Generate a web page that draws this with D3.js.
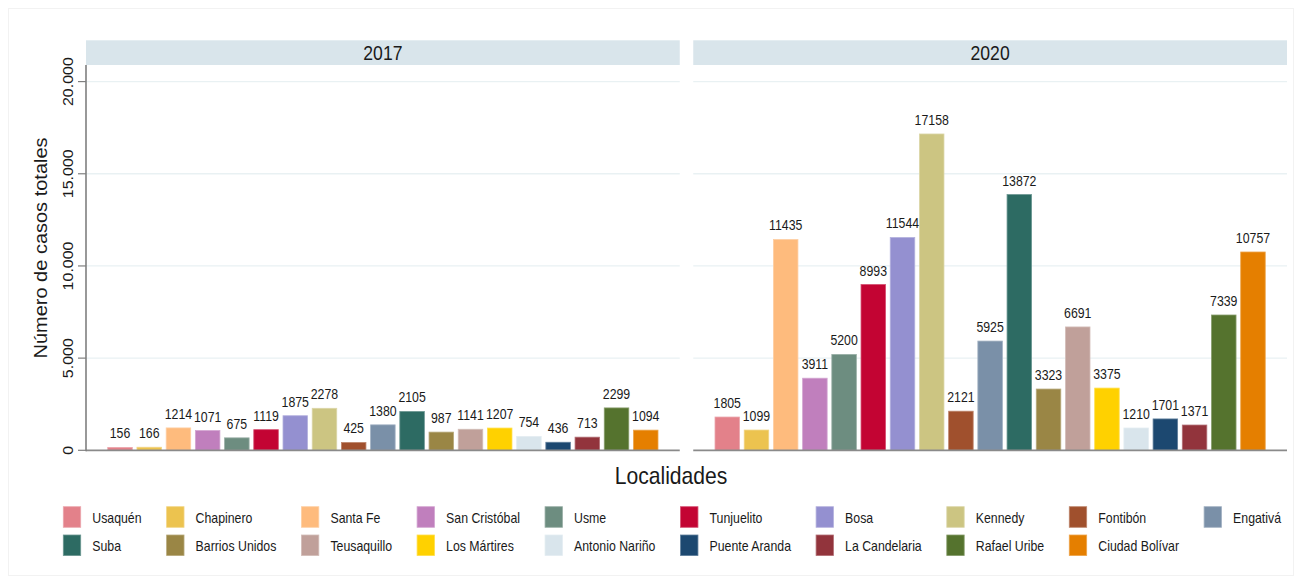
<!DOCTYPE html>
<html><head><meta charset="utf-8">
<script src="https://cdn.jsdelivr.net/npm/d3@7"></script>
<style>
html,body{margin:0;padding:0;background:#fff;}
text{font-family:"Liberation Sans",Arial,sans-serif;fill:#1a1a1a;}
</style></head>
<body><svg id="c" width="1302" height="584"></svg>
<script>
const localidades = ["Usaquén","Chapinero","Santa Fe","San Cristóbal","Usme","Tunjuelito","Bosa","Kennedy","Fontibón","Engativá","Suba","Barrios Unidos","Teusaquillo","Los Mártires","Antonio Nariño","Puente Aranda","La Candelaria","Rafael Uribe","Ciudad Bolívar"];
const casos2017 = [156,166,1214,1071,675,1119,1875,2278,425,1380,2105,987,1141,1207,754,436,713,2299,1094];
const casos2020 = [1805,1099,11435,3911,5200,8993,11544,17158,2121,5925,13872,3323,6691,3375,1210,1701,1371,7339,10757];
const colores = ["#e3818a","#ecc34f","#febb7d","#c07fbd","#6d8d80","#c30433","#9490d0","#ccc582","#a0502d","#7a90a8","#2d6b63","#9a8645","#c0a09a","#ffd100","#d9e5ec","#1c4870","#92343c","#55732e","#e57f00"];
const anios = ["2017","2020"];
const yTicks = [0,5000,10000,15000,20000];
const yTickLabels = ["0","5.000","10.000","15.000","20.000"];

const series = [casos2017, casos2020];
const SX = 0.88; // horizontal squish of glyphs
const svg = d3.select("#c");

// faint outer frame
svg.append("rect").attr("x",8.5).attr("y",8.5).attr("width",1285).attr("height",567)
  .attr("fill","none").attr("stroke","#f2f2f2");

const y = d3.scaleLinear().domain([0,20900]).range([450.3,65]);
const panelX = d3.scaleBand().domain(anios).range([86,1287]).paddingInner(0.0222);
const pw = panelX.bandwidth();

function htext(g, x, yy, txt, size, anchor){
  return g.append("text").attr("transform",`translate(${x},${yy}) scale(${SX},1)`)
    .attr("text-anchor",anchor||"middle").style("font-size",size+"px").text(txt);
}

anios.forEach((yr,pi)=>{
  const x0 = panelX(yr);
  const g = svg.append("g");
  // strip
  g.append("rect").attr("x",x0).attr("y",40.3).attr("width",pw).attr("height",24.7).attr("fill","#d9e5eb");
  htext(g, x0+pw/2, 59.5, yr, 20);
  // grid
  g.selectAll(".grid").data(yTicks.filter(t=>t>0)).join("line")
    .attr("x1",x0).attr("x2",x0+pw).attr("y1",d=>y(d)).attr("y2",d=>y(d))
    .attr("stroke","#e9f1f3").attr("stroke-width",1.3);
  const xb = d3.scaleBand().domain(localidades).range([x0,x0+pw]).paddingInner(0.16).paddingOuter(0.745);
  const vals = series[pi];
  g.selectAll(".bar").data(localidades).join("rect")
    .attr("x",d=>xb(d)).attr("width",xb.bandwidth())
    .attr("y",(d,i)=>y(vals[i])).attr("height",(d,i)=>y(0)-y(vals[i]))
    .attr("fill",(d,i)=>colores[i])
    .attr("stroke",(d,i)=>d3.interpolateRgb(colores[i],"#ffffff")(0.3)).attr("stroke-width",0.8);
  localidades.forEach((d,i)=>{
    htext(g, xb(d)+xb.bandwidth()/2, y(vals[i])-9, String(vals[i]), 14);
  });
  // baseline
  g.append("line").attr("x1",x0).attr("x2",x0+pw).attr("y1",y(0)).attr("y2",y(0))
    .attr("stroke","#8a8a8a").attr("stroke-width",1.8);
});

// y axis
const x0 = panelX(anios[0]);
svg.append("line").attr("x1",x0).attr("x2",x0).attr("y1",65).attr("y2",y(0)+0.9)
  .attr("stroke","#7f7f7f").attr("stroke-width",1.6);
yTicks.forEach((t,i)=>{
  svg.append("line").attr("x1",x0-8).attr("x2",x0).attr("y1",y(t)).attr("y2",y(t))
    .attr("stroke","#7f7f7f").attr("stroke-width",1.2);
  svg.append("text").attr("transform",`translate(73,${y(t)}) scale(${SX},1) rotate(-90)`)
    .attr("text-anchor","middle").style("font-size","16px").text(yTickLabels[i]);
});
svg.append("text").attr("transform",`translate(47,248) scale(${SX},1) rotate(-90)`)
  .attr("text-anchor","middle").style("font-size","20px").text("Número de casos totales");

// x title
htext(svg, 671, 484, "Localidades", 24);

// legend
const nCols = 10;
const leg = svg.append("g");
const meas = leg.append("text").style("font-size","14px");
const colW = [];
for(let c=0;c<nCols;c++){
  let m=0;
  for(let r=0;r<2;r++){
    const idx=r*nCols+c; if(idx>=localidades.length) continue;
    meas.text(localidades[idx]); m=Math.max(m, meas.node().getComputedTextLength()*SX);
  }
  colW.push(m);
}
meas.remove();
let cx = 63.3; const colX=[];
for(let c=0;c<nCols;c++){ colX.push(cx); cx += 29 + colW[c] + 25; }
localidades.forEach((d,i)=>{
  const r = Math.floor(i/nCols), c = i%nCols;
  const ly = 506.7 + r*28.3;
  leg.append("rect").attr("x",colX[c]).attr("y",ly).attr("width",17.4).attr("height",20.6)
    .attr("fill",colores[i]).attr("stroke",d3.interpolateRgb(colores[i],"#ffffff")(0.3)).attr("stroke-width",0.8);
  htext(leg, colX[c]+29, ly+16, d, 14, "start");
});
</script></body></html>
